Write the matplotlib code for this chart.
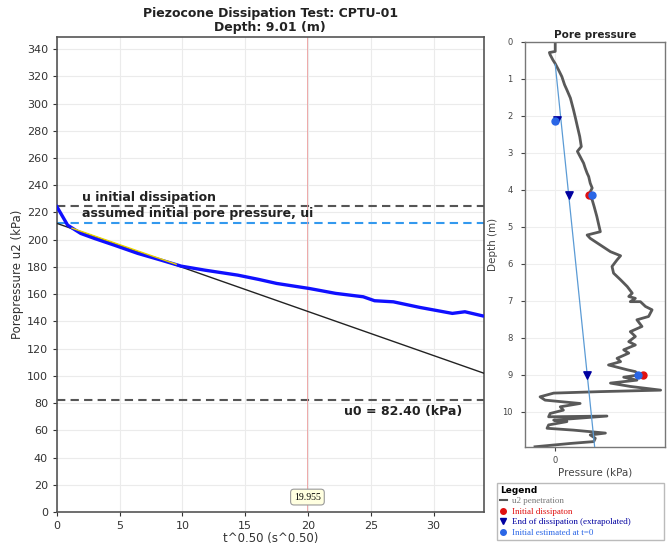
import matplotlib.pyplot as plt
from matplotlib.lines import Line2D

# Dissipation test data
T_SQRT = [0, 0.85, 1.9, 3.0, 4.57, 6.43, 8.3, 9.9, 11.75, 14.4, 16.1, 17.5,
          20.1, 22.2, 24.4, 25.3, 26.8, 28.9, 31.5, 32.5, 33.9]
U2 = [224.2, 210.7, 204.6, 200.9, 196.0, 190.0, 185.0, 180.6, 177.7, 174.0,
      170.8, 167.9, 164.2, 160.6, 158.1, 155.2, 154.4, 150.3, 145.9, 147.1, 144.1]
FIT_T = [0, 34]
FIT_U = [212, 102]
YELLOW_T = [1.2, 9.5]
YELLOW_U = [208.5, 182]
U_INITIAL = 224.5
U_ASSUMED = 212.5
U0 = 82.4
CURSOR_T = 19.955

# Penetration profile (kPa, m)
PROF_U = [0, 0, -15, -13, -6, 0, 8.5, 17, 24, 30, 39, 47, 52, 57, 63, 67, 60, 57,
          64, 73, 77, 82, 86, 90, 95, 86, 95, 100, 107, 112, 116, 82, 90, 116, 142,
          168, 159, 146, 150, 168, 185, 198, 189, 206, 193, 219, 232, 249, 240, 210,
          223, 193, 206, 189, 206, 176, 189, 159, 168, 137, 185, 206, 215, 176, 210,
          142, 193, 271, 116, -4, -39, -26, 64, 13, 21, -13, -17, 133, -4, 30, -17,
          -21, 47, 129, 90, 103, 99, 39, -52]
PROF_Z = [0, 0.26, 0.29, 0.35, 0.49, 0.59, 0.76, 0.94, 1.16, 1.3, 1.52, 1.84, 2.06,
          2.29, 2.56, 2.83, 2.92, 2.96, 3.1, 3.28, 3.41, 3.55, 3.64, 3.82, 3.95, 4.14,
          4.27, 4.45, 4.72, 4.95, 5.13, 5.22, 5.31, 5.49, 5.67, 5.78, 5.89, 6.07, 6.25,
          6.43, 6.61, 6.79, 6.88, 6.93, 7.02, 7.02, 7.15, 7.24, 7.42, 7.51, 7.69, 7.83,
          7.96, 8.1, 8.19, 8.32, 8.41, 8.55, 8.64, 8.73, 8.86, 8.91, 9.0, 9.06, 9.14,
          9.22, 9.31, 9.41, 9.45, 9.49, 9.59, 9.68, 9.77, 9.86, 9.95, 10.04, 10.13,
          10.11, 10.22, 10.26, 10.35, 10.44, 10.49, 10.57, 10.62, 10.71, 10.8, 10.85,
          10.94]
HYDRO_U = [0, 101.4]
HYDRO_Z = [0.61, 10.95]
INIT_U = [88, 225]
INIT_Z = [4.15, 9.0]
END_U = [5, 36, 82.4]
END_Z = [2.12, 4.15, 9.0]
EST_U = [0, 95, 213]
EST_Z = [2.15, 4.15, 9.0]

fig = plt.figure(figsize=(6.7, 5.5), dpi=100)

# ---- main dissipation plot
ax = fig.add_axes([0.085, 0.069, 0.637, 0.864])
ax.plot(FIT_T, FIT_U, color="#222222", lw=1.0, zorder=3)
ax.plot(T_SQRT, U2, color="#1010ff", lw=2.4, zorder=4)
ax.plot(YELLOW_T, YELLOW_U, color="#e8d200", lw=1.0, zorder=5)
ax.axhline(U_INITIAL, color="#555555", ls=(0, (4, 2.5)), lw=1.5, zorder=2)
ax.axhline(U_ASSUMED, color="#3399ee", ls=(0, (4, 2.5)), lw=1.5, zorder=2)
ax.axhline(U0, color="#555555", ls=(0, (4, 2.5)), lw=1.5, zorder=2)
ax.axvline(CURSOR_T, color="#ec9c9c", lw=0.6, zorder=2.5)

ax.text(2.0, U_INITIAL + 2, "u initial dissipation", fontsize=9, fontweight="bold",
        color="#222222", va="bottom")
ax.text(2.0, U_ASSUMED + 2, "assumed initial pore pressure, ui", fontsize=9,
        fontweight="bold", color="#222222", va="bottom")
ax.text(22.9, U0 - 4, "u0 = 82.40 (kPa)", fontsize=9, fontweight="bold",
        color="#222222", va="top")
ax.text(CURSOR_T, 11, f"{CURSOR_T:.3f}", fontsize=7, family="Liberation Serif",
        ha="center", va="center", zorder=6,
        bbox=dict(boxstyle="round,pad=0.35", fc="#ffffe0", ec="#999999", lw=0.8))

ax.set_xlim(0, 34)
ax.set_ylim(0, 349)
ax.set_xticks(range(0, 35, 5))
ax.set_yticks(range(0, 341, 20))
ax.grid(True, color="#ebebeb", lw=0.8)
ax.set_axisbelow(True)
ax.tick_params(labelsize=8, colors="#333333", length=3)
for s in ax.spines.values():
    s.set_color("#555555")
    s.set_linewidth(1.2)
ax.set_xlabel("t^0.50 (s^0.50)", fontsize=8.5, color="#333333", labelpad=1)
ax.set_ylabel("Porepressure u2 (kPa)", fontsize=8.5, color="#333333", labelpad=2)
ax.set_title("Piezocone Dissipation Test: CPTU-01\nDepth: 9.01 (m)", fontsize=9,
             fontweight="bold", color="#222222", pad=4, linespacing=1.1)

# ---- pore pressure profile
ax2 = fig.add_axes([0.784, 0.187, 0.209, 0.737])
ax2.plot(PROF_U, PROF_Z, color="#595959", lw=2.0, zorder=2)
ax2.plot(HYDRO_U, HYDRO_Z, color="#5b9bd5", lw=0.9, zorder=3)
ax2.scatter(INIT_U, INIT_Z, color="#e01010", s=25, zorder=4)
ax2.scatter(END_U, END_Z, color="#0000a0", marker="v", s=28, zorder=4.5)
ax2.scatter(EST_U, EST_Z, color="#2a66e6", s=25, zorder=5)
ax2.set_xlim(-77, 283)
ax2.set_ylim(10.95, 0)
ax2.set_xticks([0])
ax2.set_yticks(range(0, 11))
ax2.grid(True, color="#eeeeee", lw=0.8)
ax2.set_axisbelow(True)
ax2.tick_params(labelsize=6, colors="#444444", length=3)
ax2.tick_params(axis="y", pad=6)
for s in ax2.spines.values():
    s.set_color("#777777")
    s.set_linewidth(1.0)
ax2.set_title("Pore pressure", fontsize=7.5, fontweight="bold", color="#222222", pad=3)
ax2.set_ylabel("Depth (m)", fontsize=7.5, color="#444444", labelpad=3)
ax2.set_xlabel("Pressure (kPa)", fontsize=7.5, color="#444444", labelpad=2)

handles = [
    Line2D([], [], color="#555555", lw=1.5),
    Line2D([], [], color="#e01010", marker="o", ls="", ms=4),
    Line2D([], [], color="#0000a0", marker="v", ls="", ms=4),
    Line2D([], [], color="#2a66e6", marker="o", ls="", ms=4),
]
labels = ["u2 penetration", "Initial dissipaton", "End of dissipation (extrapolated)",
          "Initial estimated at t=0"]
leg = fig.legend(handles, labels, loc="upper left",
                 bbox_to_anchor=(0.742, 0.009, 0.249, 0.113), mode="expand",
                 title="Legend", alignment="left", title_fontsize=6.5,
                 prop={"family": "Liberation Serif", "size": 6.5},
                 frameon=True, fancybox=False, edgecolor="#aaaaaa",
                 handlelength=0.8, handletextpad=0.6, labelspacing=0.25,
                 borderpad=0.3, borderaxespad=0)
leg.get_title().set_fontweight("bold")
for txt, c in zip(leg.get_texts(), ["#777777", "#e01010", "#0000a0", "#2a66e6"]):
    txt.set_color(c)

fig.savefig("out.png", dpi=100)
